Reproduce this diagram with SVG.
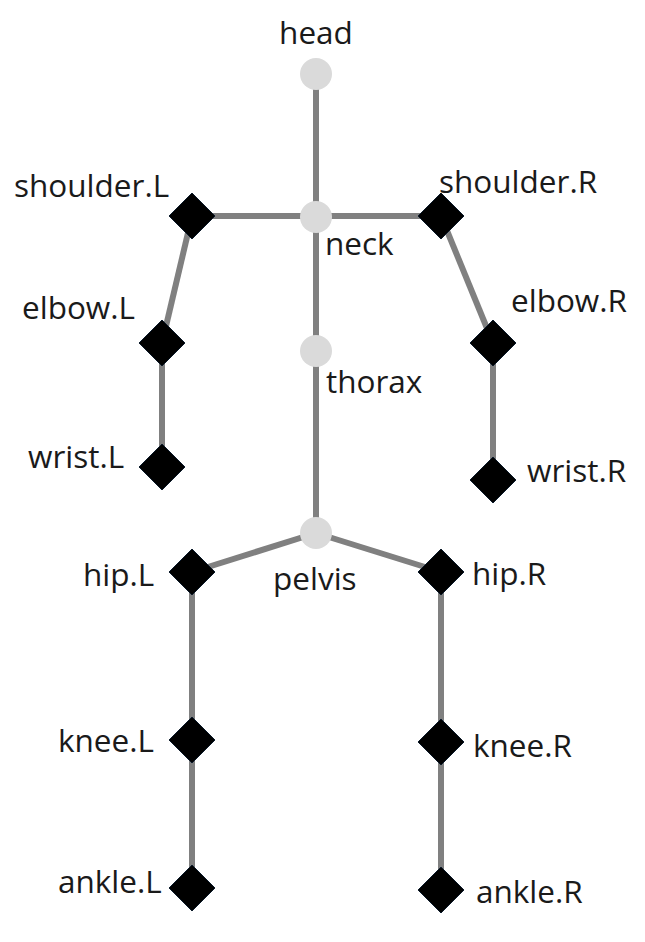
<svg xmlns="http://www.w3.org/2000/svg" width="645" height="942" viewBox="0 0 645 942">
<style>
.bone{stroke:#808080;stroke-width:6;fill:none}
.joint{fill:#dadada}
.ep{fill:#000;stroke:#0b1a2a;stroke-width:1}
.lbl{font-family:"Open Sans","Noto Sans",sans-serif;font-size:31.5px;fill:#1a1a1a}
</style>
<rect width="645" height="942" fill="#fff"/>
<g id="connectors">
<line class="bone" x1="316" y1="74" x2="316" y2="533"/>
<line class="bone" x1="192" y1="216" x2="441" y2="216"/>
<line class="bone" x1="192" y1="216" x2="162" y2="343"/>
<line class="bone" x1="162" y1="343" x2="162" y2="467"/>
<line class="bone" x1="441" y1="216" x2="493" y2="343"/>
<line class="bone" x1="493" y1="343" x2="493" y2="480"/>
<line class="bone" x1="316" y1="533" x2="192" y2="572"/>
<line class="bone" x1="316" y1="533" x2="441" y2="572"/>
<line class="bone" x1="192" y1="572" x2="192" y2="888"/>
<line class="bone" x1="441" y1="572" x2="441" y2="890"/>
</g>
<g id="head"><circle class="joint" cx="316" cy="74" r="16"/><text class="lbl" x="316" y="44" text-anchor="middle">head</text></g>
<g id="neck"><circle class="joint" cx="316" cy="217" r="16"/><text class="lbl" x="325" y="255">neck</text></g>
<g id="thorax"><circle class="joint" cx="316" cy="351" r="16"/><text class="lbl" x="326" y="393">thorax</text></g>
<g id="pelvis"><circle class="joint" cx="316" cy="533" r="16"/><text class="lbl" x="273" y="590">pelvis</text></g>
<g id="shoulder.L"><path class="ep" d="M192 193 L215 216 L192 239 L169 216 Z"/><text class="lbl" x="14" y="197">shoulder.L</text></g>
<g id="shoulder.R"><path class="ep" d="M441 193 L464 216 L441 239 L418 216 Z"/><text class="lbl" x="439" y="193">shoulder.R</text></g>
<g id="elbow.L"><path class="ep" d="M162 320 L185 343 L162 366 L139 343 Z"/><text class="lbl" x="22" y="319">elbow.L</text></g>
<g id="elbow.R"><path class="ep" d="M493 320 L516 343 L493 366 L470 343 Z"/><text class="lbl" x="511" y="312">elbow.R</text></g>
<g id="wrist.L"><path class="ep" d="M162 444 L185 467 L162 490 L139 467 Z"/><text class="lbl" x="28" y="468">wrist.L</text></g>
<g id="wrist.R"><path class="ep" d="M493 457 L516 480 L493 503 L470 480 Z"/><text class="lbl" x="527" y="482">wrist.R</text></g>
<g id="hip.L"><path class="ep" d="M192 549 L215 572 L192 595 L169 572 Z"/><text class="lbl" x="83" y="586">hip.L</text></g>
<g id="hip.R"><path class="ep" d="M441 549 L464 572 L441 595 L418 572 Z"/><text class="lbl" x="472" y="585">hip.R</text></g>
<g id="knee.L"><path class="ep" d="M192 717 L215 740 L192 763 L169 740 Z"/><text class="lbl" x="58" y="752">knee.L</text></g>
<g id="knee.R"><path class="ep" d="M441 719 L464 742 L441 765 L418 742 Z"/><text class="lbl" x="473" y="757">knee.R</text></g>
<g id="ankle.L"><path class="ep" d="M192 865 L215 888 L192 911 L169 888 Z"/><text class="lbl" x="58" y="893">ankle.L</text></g>
<g id="ankle.R"><path class="ep" d="M441 867 L464 890 L441 913 L418 890 Z"/><text class="lbl" x="476" y="903">ankle.R</text></g>
</svg>
